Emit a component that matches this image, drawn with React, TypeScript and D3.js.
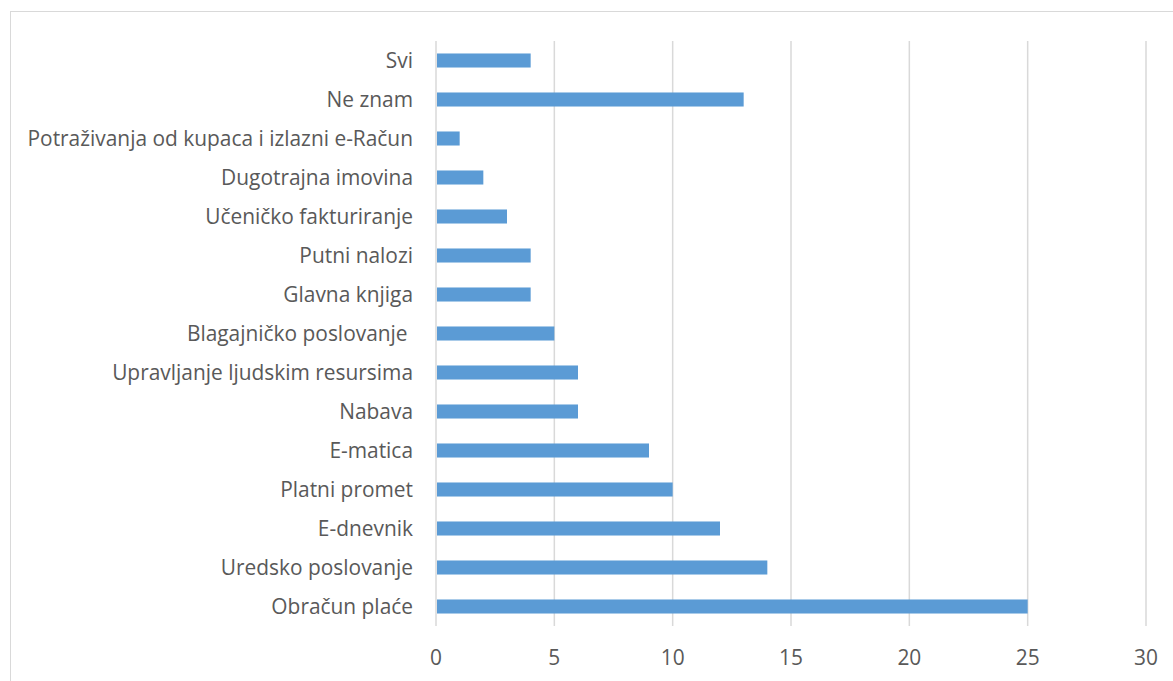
import React, { useEffect, useRef } from 'react';
import * as d3 from 'd3';

const categories = [
  'Svi',
  'Ne znam',
  'Potraživanja od kupaca i izlazni e-Račun',
  'Dugotrajna imovina',
  'Učeničko fakturiranje',
  'Putni nalozi',
  'Glavna knjiga',
  'Blagajničko poslovanje ',
  'Upravljanje ljudskim resursima',
  'Nabava',
  'E-matica',
  'Platni promet',
  'E-dnevnik',
  'Uredsko poslovanje',
  'Obračun plaće',
];
const values = [4, 13, 1, 2, 3, 4, 4, 5, 6, 6, 9, 10, 12, 14, 25];
const xTicks = [0, 5, 10, 15, 20, 25, 30];

const App = () => {
  const ref = useRef<SVGSVGElement>(null);

  useEffect(() => {
    const svg = d3.select(ref.current);
    svg.selectAll('*').remove();
    const font = 'Open Sans, sans-serif';
    const fontSize = 20.9;

    // chart border (runs off the right and bottom edges)
    svg
      .append('rect')
      .attr('x', 10.5)
      .attr('y', 11.5)
      .attr('width', 1300)
      .attr('height', 800)
      .attr('fill', 'none')
      .attr('stroke', '#d9d9d9');

    const x = d3.scaleLinear().domain([0, 30]).range([436, 1146]);
    const y = d3.scaleBand().domain(categories).range([41, 626]).paddingInner(0.64).paddingOuter(0.32);

    svg
      .append('g')
      .selectAll('line')
      .data(xTicks)
      .enter()
      .append('line')
      .attr('x1', (d) => x(d))
      .attr('x2', (d) => x(d))
      .attr('y1', 41)
      .attr('y2', 626)
      .attr('stroke', '#d9d9d9')
      .attr('stroke-width', 1.5);

    svg
      .append('g')
      .selectAll('rect')
      .data(values)
      .enter()
      .append('rect')
      .attr('x', x(0) + 1)
      .attr('y', (d, i) => y(categories[i])!)
      .attr('width', (d) => x(d) - x(0) - 1)
      .attr('height', y.bandwidth())
      .attr('fill', '#5b9bd5');

    svg
      .append('g')
      .selectAll('text')
      .data(categories)
      .enter()
      .append('text')
      .attr('x', 413)
      .attr('y', (d) => y(d)! + y.bandwidth() / 2)
      .attr('dy', '0.35em')
      .attr('text-anchor', 'end')
      .attr('font-family', font)
      .attr('font-size', fontSize)
      .attr('fill', '#595959')
      .style('white-space', 'pre')
      .text((d) => d);

    svg
      .append('g')
      .selectAll('text')
      .data(xTicks)
      .enter()
      .append('text')
      .attr('x', (d) => x(d))
      .attr('y', 658)
      .attr('dy', '0.35em')
      .attr('text-anchor', 'middle')
      .attr('font-family', font)
      .attr('font-size', fontSize)
      .attr('fill', '#595959')
      .text((d) => d);
  }, []);

  return (
    <svg
      ref={ref}
      width={1173}
      height={681}
      style={{ position: 'absolute', left: 0, top: 0, background: '#fff' }}
    />
  );
};

export default App;
